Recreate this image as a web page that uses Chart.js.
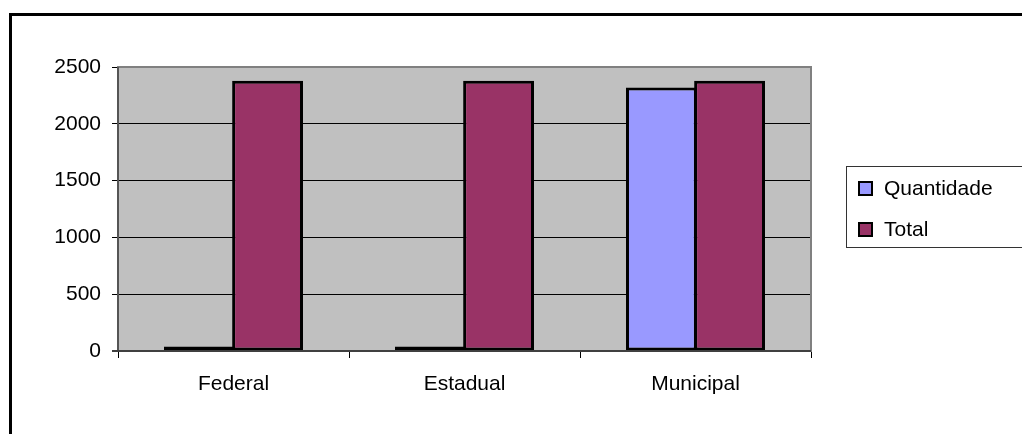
<!DOCTYPE html>
<html>
<head>
<meta charset="utf-8">
<script src="https://cdn.jsdelivr.net/npm/chart.js@4.4.1/dist/chart.umd.min.js"></script>
<style>
    html, body { margin: 0; padding: 0; background: #fff; overflow: hidden; }
    #wrap { position: relative; width: 1022px; height: 434px; }
    #frame {
        position: absolute; left: 9px; top: 13px; width: 1100px; height: 500px;
        border-left: 3px solid #000; border-top: 3px solid #000; pointer-events: none;
    }
    canvas { position: absolute; left: 0; top: 0; }
</style>
</head>
<body>
<div id="wrap">
    <canvas id="chart" width="1022" height="434"></canvas>
    <div id="frame"></div>
</div>
<script>
const categories = ['Federal', 'Estadual', 'Municipal'];
const quantidade = [40, 40, 2320];
const total = [2380, 2380, 2380];
const yTicks = [0, 500, 1000, 1500, 2000, 2500];

const FONT = '"Liberation Sans", Arial, sans-serif';

// gray plot area + its frame
const plotArea = {
    id: 'plotArea',
    beforeDraw(chart) {
        const { ctx, chartArea: a } = chart;
        ctx.save();
        ctx.fillStyle = '#c0c0c0';
        ctx.fillRect(a.left, a.top, a.right - a.left, a.bottom - a.top);
        ctx.restore();
    },
    beforeDatasetsDraw(chart) {
        const { ctx, chartArea: a } = chart;
        ctx.save();
        ctx.strokeStyle = '#808080';
        ctx.lineWidth = 2;
        ctx.strokeRect(a.left, a.top, a.right - a.left, a.bottom - a.top);
        ctx.strokeStyle = '#555';
        ctx.beginPath();
        ctx.moveTo(a.left, a.top);
        ctx.lineTo(a.left, a.bottom);
        ctx.stroke();
        ctx.restore();
    },
    afterDatasetsDraw(chart) {
        const { ctx, chartArea: a } = chart;
        ctx.save();
        ctx.strokeStyle = '#404040';
        ctx.lineWidth = 2;
        ctx.beginPath();
        ctx.moveTo(a.left - 6, a.bottom);
        ctx.lineTo(a.right, a.bottom);
        ctx.stroke();
        ctx.restore();
    }
};

// Excel-like legend box on the right
const boxLegend = {
    id: 'boxLegend',
    afterDraw(chart) {
        const ctx = chart.ctx;
        ctx.save();
        ctx.strokeStyle = '#333';
        ctx.lineWidth = 1;
        ctx.strokeRect(846.5, 166.5, 200, 81);
        ctx.font = '21px ' + FONT;
        ctx.textBaseline = 'middle';
        chart.data.datasets.forEach((ds, i) => {
            const y = 188 + i * 41;
            ctx.fillStyle = ds.backgroundColor;
            ctx.fillRect(859, y - 6, 13, 13);
            ctx.lineWidth = 2;
            ctx.strokeStyle = '#000';
            ctx.strokeRect(859, y - 6, 13, 13);
            ctx.fillStyle = '#000';
            ctx.fillText(ds.label, 884, y + 1);
        });
        ctx.restore();
    }
};

new Chart(document.getElementById('chart'), {
    type: 'bar',
    data: {
        labels: categories,
        datasets: [{
            label: 'Quantidade',
            data: quantidade,
            backgroundColor: '#9999ff',
            borderColor: '#000',
            borderWidth: 3,
            borderSkipped: false
        }, {
            label: 'Total',
            data: total,
            backgroundColor: '#993366',
            borderColor: '#000',
            borderWidth: 3,
            borderSkipped: false
        }]
    },
    options: {
        responsive: false,
        animation: false,
        layout: { padding: { left: 0, top: 67, right: 211, bottom: 0 } },
        datasets: { bar: { categoryPercentage: 0.59, barPercentage: 1.04 } },
        plugins: {
            legend: { display: false },
            tooltip: { enabled: false }
        },
        scales: {
            x: {
                afterFit: s => { s.height = 83; },
                grid: { display: true, drawOnChartArea: false, color: '#000', tickLength: 7, offset: true },
                border: { display: false },
                ticks: { color: '#000', font: { family: FONT, size: 21 }, padding: 14 }
            },
            y: {
                min: 0,
                max: 2500,
                afterFit: s => { s.width = 118; },
                afterBuildTicks: s => { s.ticks = yTicks.map(v => ({ value: v })); },
                grid: { color: '#000', lineWidth: 1, tickLength: 6 },
                border: { display: false },
                ticks: { color: '#000', font: { family: FONT, size: 21 }, padding: 11, callback: v => String(v) }
            }
        }
    },
    plugins: [plotArea, boxLegend]
});
</script>
</body>
</html>
